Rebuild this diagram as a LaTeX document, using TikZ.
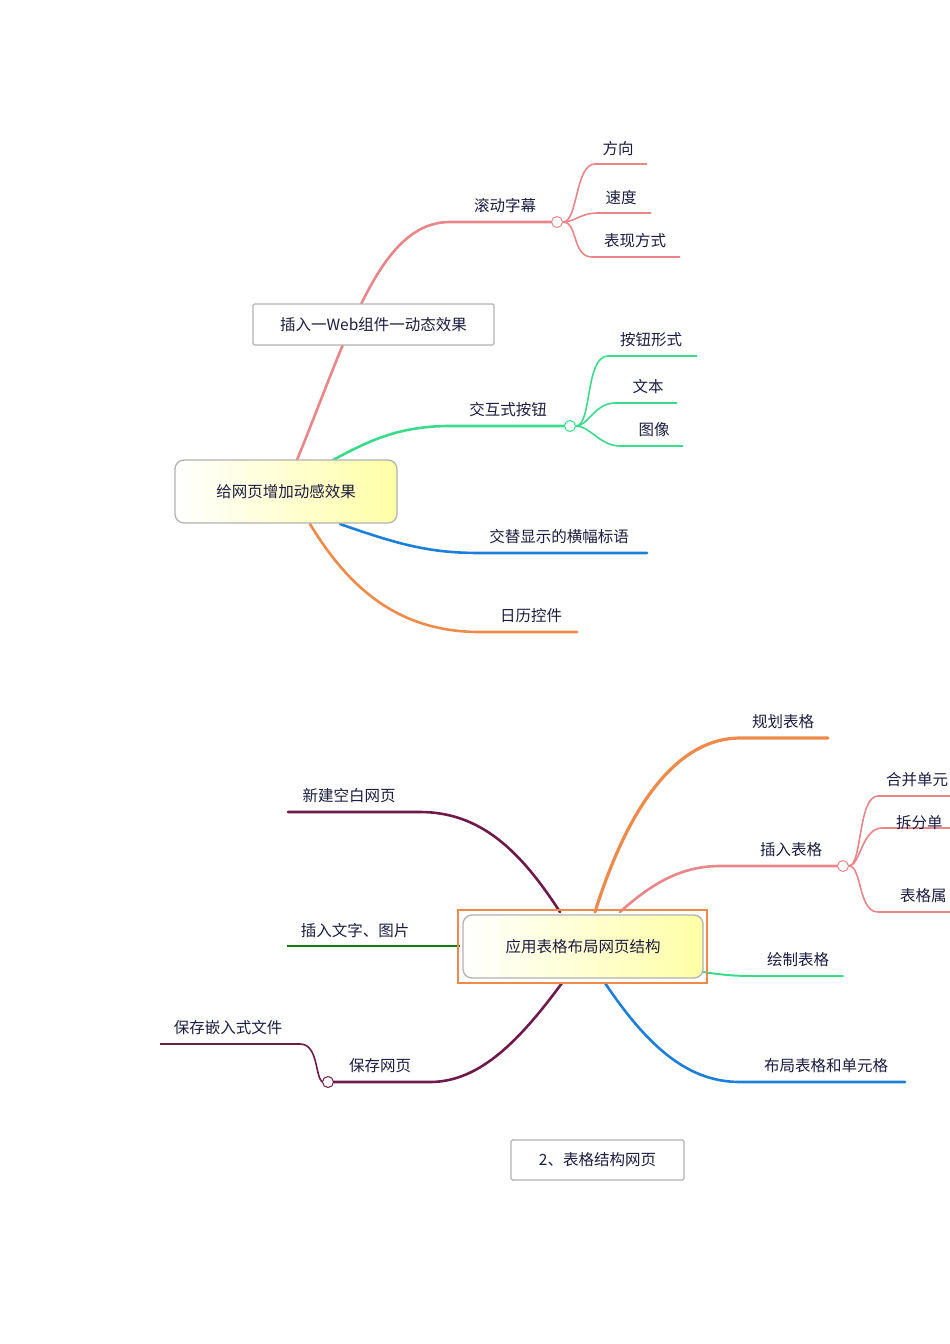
\documentclass[tikz,border=0pt]{standalone}
\usepackage{fontspec}
\newfontfamily\cjk{Noto Sans CJK SC}
\definecolor{pk}{HTML}{E8868A}
\definecolor{gr}{HTML}{3ADB8A}
\definecolor{bl}{HTML}{1E7FD8}
\definecolor{org}{HTML}{EE8A4A}
\definecolor{pur}{HTML}{6E1B4B}
\definecolor{dg}{HTML}{137A13}
\definecolor{txt}{HTML}{1C1C40}
\tikzset{
  lbl/.style={font=\cjk\fontsize{15.5}{17}\selectfont, text=txt, inner sep=0pt},
  br/.style={line width=2.6pt, line cap=round},
  sb/.style={line width=1.6pt},
  knob/.style={circle, draw, fill=white, line width=1pt, minimum size=11pt, inner sep=0pt},
  central/.style={draw=gray!60, line width=1.3pt, rounded corners=9pt, left color=white, right color=yellow!35, lbl, font=\cjk\fontsize{15.5}{17}\selectfont},
  plainbox/.style={draw=gray!60, line width=1.3pt, fill=white, rounded corners=1.5pt, lbl}
}
\begin{document}
\begin{tikzpicture}[x=1pt,y=-1pt]
\useasboundingbox (0,0) rectangle (950,1344);
\clip (0,0) rectangle (950,1344);
% ---------- top map ----------
\coordinate (c1t) at (297,460);
\coordinate (c1g) at (333,460);
\coordinate (c1b) at (340,524);
\coordinate (c1o) at (310,524);
\node[knob, draw=pk] (k1) at (557,222) {};
\node[knob, draw=gr] (k2) at (570,426) {};
\draw[br, pk] (c1t) .. controls (350,330) and (380,222) .. (450,222) -- (k1.west);
\draw[br, gr] (c1g) .. controls (370,440) and (400,426) .. (450,426) -- (k2.west);
\draw[br, bl] (c1b) .. controls (400,545) and (430,553) .. (480,553) -- (647,553);
\draw[br, org] (c1o) .. controls (350,590) and (400,632) .. (480,632) -- (577,632);
\node[lbl] (t1) at (505,206) {滚动字幕};
\node[lbl] (t2) at (508,410) {交互式按钮};
\node[lbl] (t3) at (559,537) {交替显示的横幅标语};
\node[lbl] (t4) at (531,616) {日历控件};
\draw[sb, pk] (k1.east) .. controls (578,222) and (575,164) .. (595,164) -- (647,164);
\draw[sb, pk] (k1.east) .. controls (575,222) and (580,213) .. (598,213) -- (651,213);
\draw[sb, pk] (k1.east) .. controls (578,222) and (572,257) .. (592,257) -- (680,257);
\node[lbl] at (618,149) {方向};
\node[lbl] at (621,198) {速度};
\node[lbl] at (635,241) {表现方式};
\draw[sb, gr] (k2.east) .. controls (592,426) and (585,356) .. (608,356) -- (697,356);
\draw[sb, gr] (k2.east) .. controls (588,426) and (595,403) .. (615,403) -- (677,403);
\draw[sb, gr] (k2.east) .. controls (590,426) and (600,446) .. (620,446) -- (683,446);
\node[lbl] at (651,340) {按钮形式};
\node[lbl] at (648,387) {文本};
\node[lbl] at (654,430) {图像};
\node[plainbox, minimum width=241pt, minimum height=41pt] (wb) at (373.5,324.5) {插入一Web组件一动态效果};
\node[central, minimum width=222pt, minimum height=63pt] (c1) at (286,491.5) {给网页增加动感效果};
% ---------- bottom map ----------
\coordinate (c2a) at (595,912);
\coordinate (c2b) at (620,912);
\coordinate (c2c) at (703,972);
\coordinate (c2d) at (605,983);
\coordinate (c2e) at (560,912);
\coordinate (c2f) at (460,946);
\coordinate (c2g) at (562,983);
\node[knob, draw=pk] (k3) at (843,866) {};
\node[knob, draw=pur] (k4) at (328,1082) {};
\draw[br, org, line width=3.2pt] (c2a) .. controls (630,800) and (680,738) .. (740,738) -- (828,738);
\draw[br, pk] (c2b) .. controls (650,885) and (680,866) .. (720,866) -- (k3.west);
\draw[br, gr, line width=2pt] (c2c) .. controls (730,976) and (740,976) .. (760,976) -- (843,976);
\draw[br, bl] (c2d) .. controls (650,1050) and (690,1082) .. (740,1082) -- (905,1082);
\draw[br, pur] (c2e) .. controls (520,850) and (480,812) .. (420,812) -- (288,812);
\draw[br, dg, line cap=butt, line width=2pt] (c2f) -- (287,946);
\draw[br, pur] (c2g) .. controls (520,1040) and (480,1082) .. (430,1082) -- (k4.east);
\draw[sb, pur] (k4.west) .. controls (315,1075) and (318,1044) .. (300,1044) -- (160,1044);
\draw[sb, pk] (k3.east) .. controls (862,866) and (858,796) .. (878,796) -- (955,796);
\draw[sb, pk] (k3.east) .. controls (860,866) and (862,828) .. (882,828) -- (955,828);
\draw[sb, pk] (k3.east) .. controls (862,866) and (858,912) .. (878,912) -- (955,912);
\node[lbl] at (783,722) {规划表格};
\node[lbl] at (791,850) {插入表格};
\node[lbl] at (798,960) {绘制表格};
\node[lbl] at (826,1066) {布局表格和单元格};
\node[lbl] at (349,796) {新建空白网页};
\node[lbl] at (355,931) {插入文字、图片};
\node[lbl] at (380,1066) {保存网页};
\node[lbl] at (228,1028) {保存嵌入式文件};
\node[lbl, anchor=west] at (886,780) {合并单元};
\node[lbl, anchor=west] at (896,823) {拆分单};
\node[lbl, anchor=west] at (900,896) {表格属};
\node[draw=org, line width=1.5pt, minimum width=249pt, minimum height=73pt] (c2o) at (582.5,946.5) {};
\node[central, minimum width=240pt, minimum height=63pt] (c2) at (583,946.5) {应用表格布局网页结构};
\node[plainbox, minimum width=173pt, minimum height=40pt] (cap) at (597.5,1160) {2、表格结构网页};
\end{tikzpicture}
\end{document}
